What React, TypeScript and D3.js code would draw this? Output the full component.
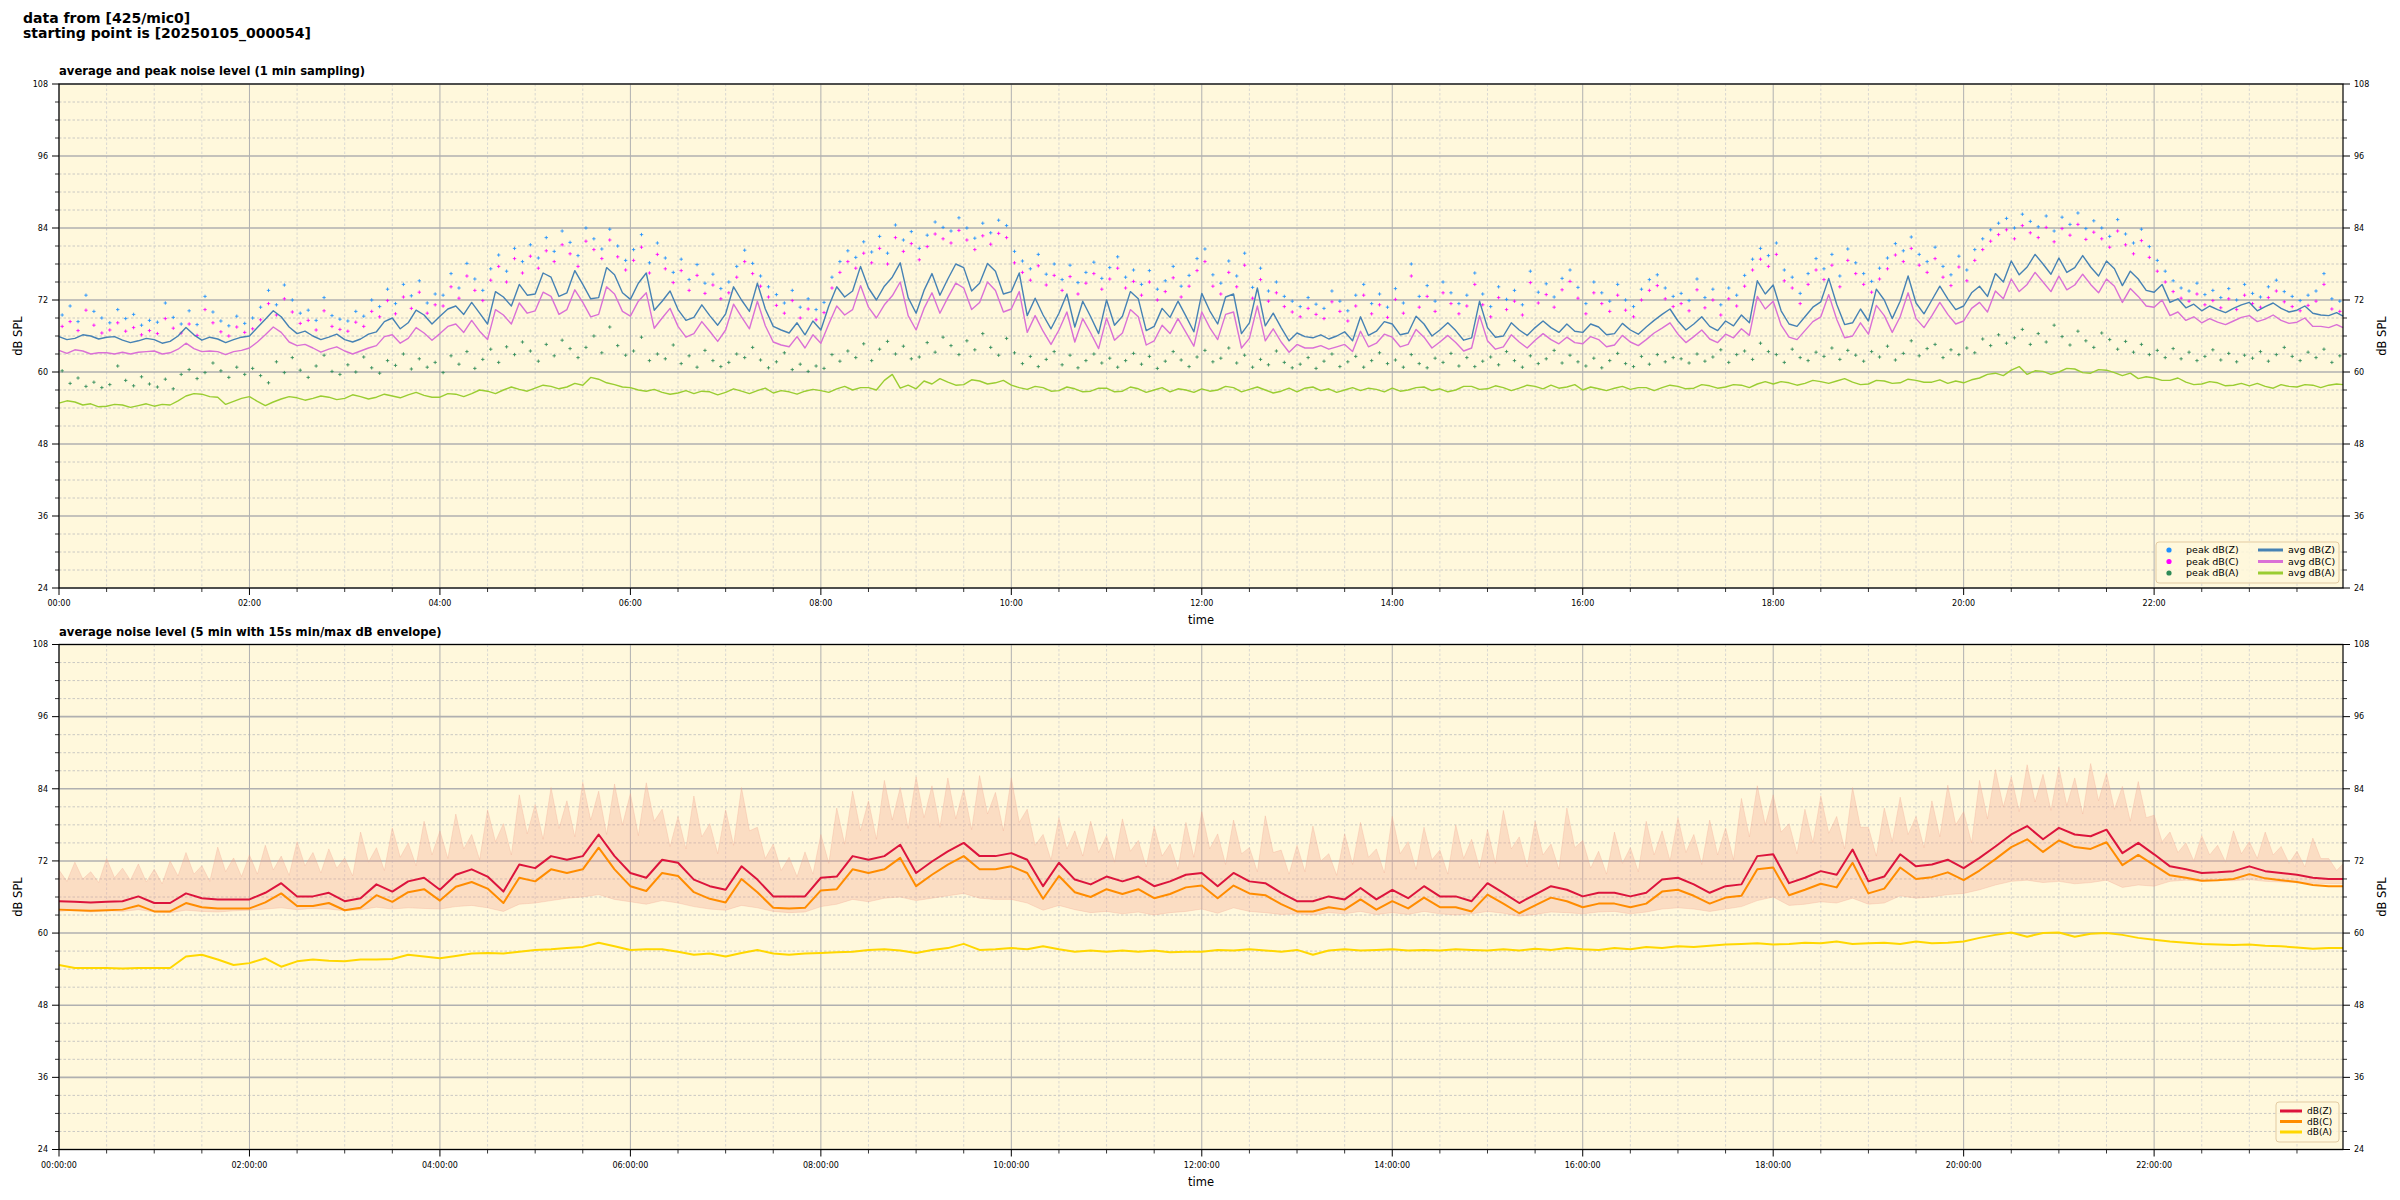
import * as d3 from "d3";

// ---- top panel: 1-min sampling, read every 10 min (00:00 .. 23:59)
const avgZ = [
  65.9, 65.6, 66.0, 65.8, 65.3, 65.2,
  65.4, 65.1, 67.4, 65.3, 65.5, 65.4,
  66.0, 68.8, 69.2, 66.4, 66.0, 65.8,
  65.4, 65.5, 66.7, 69.0, 68.2, 69.5,
  69.3, 71.0, 71.6, 68.0, 72.5, 74.6,
  73.0, 75.8, 73.2, 74.6, 72.4, 76.2,
  72.1, 76.5, 71.8, 70.4, 69.1, 69.4,
  69.7, 72.0, 74.8, 67.6, 66.5, 66.2,
  67.0, 74.2, 73.5, 74.0, 74.3, 78.2,
  69.8, 76.4, 75.5, 77.4, 74.8, 76.8,
  73.4, 69.4, 69.5, 69.8, 67.5, 69.2,
  72.0, 69.3, 72.2, 67.6, 69.1, 69.3,
  73.1, 68.0, 73.0, 68.2, 67.7, 67.4,
  66.5, 65.7, 65.5, 66.7, 69.2, 66.8,
  68.0, 66.5, 68.0, 67.0, 66.9, 65.7,
  67.4, 66.0, 67.0, 67.4, 67.4, 68.0,
  66.6, 67.5, 66.4, 67.0, 67.5, 69.6,
  68.5, 68.0, 67.6, 68.5, 69.5, 75.2,
  74.5, 68.0, 69.2, 71.7, 71.3, 68.2,
  68.5, 72.0, 71.8, 71.5, 72.0, 72.2,
  71.0, 74.3, 76.4, 78.5, 77.5, 78.0,
  79.0, 77.4, 77.5, 78.5, 74.4, 75.5,
  73.3, 71.6, 70.7, 70.2, 70.4, 70.6,
  71.6, 70.9, 70.6, 70.3, 69.8, 69.4,
  69.3,
];
// readings in between (at :05, :15, ...)
const avgZmid = [
  65.4, 66.2, 65.5, 65.9, 64.9, 65.6,
  64.8, 66.0, 66.2, 65.8, 64.9, 65.8,
  67.4, 70.2, 67.5, 66.8, 65.4, 66.3,
  65.0, 66.3, 68.4, 67.2, 70.3, 68.0,
  70.5, 69.6, 69.8, 73.4, 71.0, 72.8,
  76.5, 72.6, 76.9, 72.2, 77.4, 73.2,
  74.8, 70.3, 73.5, 68.6, 71.2, 67.8,
  74.2, 70.1, 70.5, 67.0, 68.2, 68.5,
  71.0, 72.5, 77.6, 72.0, 75.8, 72.4,
  73.6, 72.8, 78.0, 73.5, 78.1, 73.0,
  76.5, 72.3, 67.2, 73.0, 71.8, 66.4,
  67.8, 73.4, 66.9, 70.6, 71.8, 66.7,
  70.2, 72.5, 66.4, 74.0, 69.8, 65.2,
  65.9, 66.2, 66.0, 65.2, 66.1, 68.4,
  66.2, 69.3, 66.0, 68.2, 65.3, 71.8,
  65.8, 68.2, 66.1, 68.5, 66.6, 66.8,
  68.0, 66.2, 68.1, 66.3, 68.6, 70.5,
  67.0, 69.2, 66.9, 67.7, 68.2, 73.0,
  70.2, 67.6, 70.8, 75.6, 67.9, 70.5,
  73.8, 68.9, 76.0, 69.7, 74.3, 70.4,
  73.2, 72.6, 75.0, 76.2, 79.6, 76.3,
  76.6, 79.4, 76.0, 77.2, 76.8, 73.6,
  74.6, 72.2, 71.3, 71.0, 69.9, 71.2,
  70.2, 71.5, 70.0, 71.0, 69.5, 69.9,
];
const avgC = [
  63.6, 63.7, 63.0, 63.2, 63.3, 63.3,
  63.5, 63.2, 64.8, 63.4, 63.4, 63.4,
  64.0, 66.2, 66.6, 64.4, 64.0, 63.8,
  63.5, 63.5, 64.4, 66.2, 65.6, 66.5,
  66.4, 68.0, 68.6, 65.4, 69.5, 71.5,
  70.2, 72.6, 70.4, 71.6, 69.6, 73.0,
  69.3, 73.2, 69.0, 67.6, 66.4, 66.8,
  67.0, 69.2, 71.8, 65.0, 64.2, 64.0,
  64.8, 71.0, 70.4, 70.8, 71.2, 75.0,
  67.0, 73.2, 72.4, 74.0, 71.6, 73.6,
  70.5, 66.6, 66.8, 67.0, 65.0, 66.5,
  69.0, 66.5, 69.2, 65.2, 66.4, 66.6,
  70.0, 65.4, 70.0, 65.6, 65.2, 65.0,
  64.6, 64.0, 63.8, 64.6, 66.8, 64.8,
  65.8, 64.6, 65.8, 65.0, 64.9, 64.0,
  65.2, 64.2, 65.0, 65.3, 65.4, 65.8,
  64.7, 65.4, 64.5, 65.0, 65.4, 67.3,
  66.3, 65.9, 65.5, 66.3, 67.2, 72.6,
  71.8, 65.8, 66.9, 69.2, 68.8, 66.0,
  66.3, 69.4, 69.2, 68.9, 69.4, 69.6,
  68.5, 71.6, 73.5, 75.5, 74.6, 75.0,
  76.0, 74.5, 74.6, 75.5, 71.6, 72.6,
  70.8, 69.4, 68.6, 68.2, 68.3, 68.5,
  69.4, 68.8, 68.6, 68.3, 67.6, 67.4,
  67.4,
];
const avgCmid = [
  63.1, 63.5, 63.2, 63.0, 63.0, 63.4,
  63.0, 63.8, 63.9, 63.5, 62.9, 63.6,
  65.0, 67.5, 65.0, 64.6, 63.3, 64.2,
  63.0, 64.0, 65.9, 64.8, 67.4, 65.3,
  67.6, 66.6, 66.8, 70.4, 68.0, 69.8,
  73.3, 69.6, 73.7, 69.2, 74.2, 70.1,
  71.8, 67.3, 70.6, 65.8, 68.4, 65.1,
  71.3, 67.2, 67.7, 64.5, 65.9, 66.2,
  68.0, 69.5, 74.4, 69.0, 72.7, 69.4,
  70.6, 69.8, 74.8, 70.4, 75.0, 70.0,
  73.4, 69.4, 64.6, 70.0, 68.9, 63.9,
  65.3, 70.4, 64.5, 67.8, 68.9, 64.3,
  67.4, 69.6, 64.0, 71.0, 67.2, 63.3,
  64.0, 64.4, 64.2, 63.4, 64.2, 66.3,
  64.2, 67.1, 64.0, 66.1, 63.5, 69.4,
  63.8, 66.2, 64.0, 66.4, 64.7, 64.9,
  65.9, 64.2, 66.1, 64.4, 66.5, 68.2,
  64.9, 67.0, 64.9, 65.7, 66.1, 70.5,
  67.8, 65.4, 68.4, 72.9, 65.7, 68.2,
  71.1, 66.6, 73.2, 67.4, 71.6, 68.0,
  70.6, 70.0, 72.2, 73.4, 76.6, 73.4,
  73.7, 76.3, 73.2, 74.3, 73.9, 71.0,
  72.0, 70.0, 69.2, 68.9, 67.9, 69.1,
  68.4, 69.5, 68.1, 69.0, 67.6, 67.9,
];
const avgA = [
  54.8, 55.0, 54.7, 54.3, 54.5, 54.4,
  54.3, 54.5, 56.0, 56.3, 55.8, 55.1,
  55.9, 54.4, 55.5, 55.7, 55.6, 55.8,
  55.6, 55.9, 55.8, 56.0, 56.2, 56.1,
  55.8, 56.3, 56.4, 56.8, 57.0, 57.1,
  57.3, 57.6, 57.5, 57.8, 58.8, 57.9,
  57.4, 56.8, 56.6, 56.5, 56.4, 56.7,
  56.6, 56.8, 56.9, 56.5, 56.7, 56.8,
  56.9, 57.2, 57.0, 57.4, 58.6, 57.3,
  57.2, 58.0, 58.3, 57.9, 58.5, 58.2,
  57.8, 57.1, 57.4, 56.9, 57.2, 56.8,
  57.3, 56.8, 57.2, 57.0, 56.7, 57.0,
  57.2, 57.0, 57.4, 57.1, 57.0, 56.8,
  56.7, 57.5, 57.2, 57.0, 56.9, 57.1,
  57.3, 57.0, 57.5, 57.2, 57.0, 57.6,
  57.2, 57.4, 57.3, 57.6, 57.8, 57.5,
  57.0, 57.2, 57.3, 57.1, 57.4, 57.4,
  57.6, 57.3, 57.7, 57.5, 57.8, 58.0,
  58.0, 58.2, 58.1, 58.4, 58.5, 58.3,
  58.0, 58.5, 58.2, 58.6, 58.3, 58.1,
  58.2, 59.0, 59.8, 60.3, 59.6, 60.1,
  60.0, 60.5, 59.8, 60.3, 59.4, 58.9,
  59.0, 58.6, 58.3, 58.0, 58.2, 57.8,
  57.7, 57.6, 57.9, 57.5, 57.8, 57.8,
  57.9,
];
const avgAmid = [
  55.2, 54.5, 54.2, 54.6, 54.1, 54.7,
  54.6, 55.2, 56.4, 55.9, 54.6, 55.6,
  55.1, 55.0, 55.9, 55.3, 56.0, 55.4,
  56.2, 55.5, 56.3, 55.7, 56.6, 55.8,
  56.4, 55.9, 57.0, 56.4, 57.5, 56.8,
  57.8, 57.2, 58.1, 59.1, 58.2, 57.5,
  57.0, 57.1, 56.3, 56.9, 56.8, 56.2,
  57.2, 56.4, 57.3, 56.9, 56.3, 57.1,
  56.6, 57.6, 57.4, 57.0, 59.6, 57.8,
  58.5, 58.9, 57.8, 58.7, 58.0, 58.6,
  57.4, 57.6, 56.8, 57.5, 56.7, 57.3,
  56.7, 57.5, 56.6, 57.4, 57.2, 56.6,
  56.8, 57.6, 56.7, 57.5, 56.5, 57.3,
  57.3, 56.9, 56.6, 57.4, 57.3, 56.7,
  56.8, 57.4, 56.9, 56.7, 57.6, 57.1,
  57.7, 56.9, 57.8, 57.2, 57.3, 57.9,
  57.5, 56.9, 57.6, 57.4, 56.9, 57.8,
  57.2, 57.9, 57.3, 57.9, 57.4, 58.4,
  58.4, 57.8, 58.6, 58.1, 58.9, 57.9,
  58.6, 58.1, 58.8, 58.3, 58.7, 58.5,
  58.7, 59.6, 59.4, 60.9, 60.2, 59.6,
  60.6, 59.9, 60.4, 59.9, 59.8, 59.2,
  58.6, 59.0, 57.9, 58.4, 57.7, 58.1,
  58.1, 57.3, 57.6, 57.9, 57.4, 58.0,
];

// peak readings, every 5 min
const peakZ = [
  69.5, 71.0, 68.4, 72.8, 70.1, 69.0, 68.2, 70.4, 68.9, 69.6, 67.8, 68.6,
  68.3, 71.5, 69.1, 68.0, 70.2, 67.9, 72.6, 70.0, 68.5, 67.7, 69.3, 68.1,
  69.0, 70.8, 73.6, 71.2, 74.5, 72.0, 69.8, 70.3, 68.6, 72.4, 69.4, 68.8,
  68.5, 70.1, 69.3, 72.0, 70.9, 73.8, 71.4, 74.6, 72.7, 75.2, 71.5, 73.0,
  72.8, 76.4, 74.0, 78.1, 75.5, 73.6, 77.2, 79.5, 76.8, 80.6, 78.4, 81.2,
  79.0, 82.4, 80.1, 83.5, 81.6, 79.4, 84.0, 82.2, 80.5, 83.8, 81.0, 78.6,
  80.4, 82.9, 78.2, 81.5, 79.0, 76.6, 78.8, 75.4, 77.9, 74.8, 76.3, 73.9,
  75.0, 77.6, 80.3, 78.1, 76.0, 74.2, 72.9, 71.5, 73.6, 70.8, 72.2, 70.4,
  71.6, 75.8, 78.4, 80.2, 79.1, 81.7, 80.0, 82.6, 79.8, 84.5, 82.0, 83.4,
  80.6, 82.8, 85.0, 84.1, 83.5, 85.7, 84.0, 82.3, 84.8, 83.2, 85.3, 84.4,
  80.1, 78.5, 77.2, 79.6, 76.3, 78.0, 75.4, 77.8, 74.9, 76.6, 78.3, 75.6,
  77.4, 79.2, 75.8, 77.0, 74.6, 76.9, 73.8, 75.2, 77.6, 74.3, 76.1, 78.9,
  80.5, 76.2, 74.8, 78.5, 76.0, 79.8, 74.1, 77.3, 73.5, 75.0, 72.6, 71.8,
  70.9, 72.4, 71.3, 70.6, 73.5, 71.8, 70.2, 72.8, 74.6, 71.4, 73.0, 70.8,
  73.9, 71.5, 78.0, 72.6, 74.4, 71.8, 75.0, 73.2, 71.4, 72.8, 76.5, 73.0,
  70.9, 74.2, 72.1, 73.6, 71.2, 76.8, 73.3, 74.7, 72.5, 75.6, 77.0, 74.1,
  71.4, 75.0, 73.2, 71.8, 74.6, 72.0, 70.9, 73.8, 75.4, 76.2, 74.0, 72.6,
  73.1, 71.9, 75.5, 72.4, 73.8, 71.2, 74.0, 72.8, 76.1, 78.8, 80.6, 79.4,
  81.5, 77.0, 75.8, 73.1, 76.4, 78.9, 77.2, 79.6, 76.0, 80.5, 78.2, 76.4,
  75.1, 77.3, 79.0, 81.4, 80.2, 82.5, 79.6, 78.4, 80.8, 77.6, 76.2, 79.3,
  77.0, 80.4, 82.2, 83.7, 84.8, 85.6, 84.0, 86.3, 85.1, 84.2, 86.0, 83.5,
  85.8, 84.6, 86.5, 83.9, 85.2, 84.0, 82.6, 85.4, 83.0, 81.5, 83.8, 80.9,
  78.6, 76.8, 75.2, 74.0, 73.5, 74.8, 72.9, 73.6, 72.4, 73.9, 72.0, 74.6,
  73.1, 72.5, 74.2, 75.3, 73.4, 72.6, 71.9, 72.8, 73.5, 76.4, 72.2, 71.8,
];
const peakC = [
  67.6, 68.4, 66.9, 70.3, 67.8, 66.5, 67.0, 68.2, 66.8, 67.4, 66.2, 66.9,
  66.4, 68.9, 67.3, 66.5, 68.0, 66.1, 70.4, 68.2, 66.7, 66.0, 67.5, 66.6,
  67.2, 68.7, 71.4, 69.5, 72.2, 70.0, 68.1, 68.6, 67.0, 70.2, 67.6, 67.1,
  66.8, 68.3, 67.6, 70.1, 69.2, 71.9, 69.7, 72.5, 70.6, 73.3, 69.8, 71.2,
  71.0, 74.2, 72.3, 76.0, 73.6, 71.9, 75.3, 77.6, 75.0, 78.9, 76.5, 79.3,
  77.3, 80.2, 78.4, 81.2, 79.7, 77.6, 81.8, 80.4, 78.9, 82.0, 79.2, 77.0,
  78.6, 80.8, 76.5, 79.6, 77.2, 74.9, 76.9, 73.6, 76.1, 73.1, 74.5, 72.2,
  73.2, 75.8, 78.4, 76.4, 74.3, 72.5, 71.1, 69.8, 71.9, 69.0, 70.5, 68.7,
  69.9, 74.0, 76.6, 78.4, 77.3, 79.8, 78.2, 80.6, 78.0, 82.4, 80.1, 81.4,
  78.7, 80.9, 83.0, 82.2, 81.5, 83.6, 82.0, 80.4, 82.7, 81.3, 83.1, 82.4,
  78.2, 76.6, 75.3, 77.7, 74.5, 76.1, 73.6, 75.9, 73.0, 74.8, 76.4, 73.8,
  75.5, 77.3, 74.0, 75.1, 72.8, 75.0, 72.0, 73.4, 75.7, 72.5, 74.3, 76.9,
  78.4, 74.3, 73.0, 76.6, 74.2, 77.8, 72.3, 75.4, 71.8, 73.2, 70.9, 70.0,
  69.2, 70.6, 69.6, 68.9, 71.7, 70.1, 68.5, 71.0, 72.8, 69.7, 71.2, 69.1,
  72.1, 69.8, 76.0, 70.8, 72.6, 70.1, 73.2, 71.4, 69.7, 71.0, 74.6, 71.2,
  69.2, 72.4, 70.4, 71.8, 69.5, 74.9, 71.5, 72.9, 70.8, 73.7, 75.1, 72.3,
  69.7, 73.2, 71.4, 70.1, 72.8, 70.3, 69.2, 72.0, 73.6, 74.4, 72.2, 70.9,
  71.4, 70.2, 73.7, 70.7, 72.0, 69.5, 72.2, 71.0, 74.3, 77.0, 78.8, 77.6,
  79.6, 75.2, 74.0, 71.4, 74.6, 77.0, 75.4, 77.8, 74.2, 78.6, 76.4, 74.6,
  73.3, 75.5, 77.2, 79.5, 78.4, 80.6, 77.8, 76.6, 78.9, 75.8, 74.4, 77.5,
  75.2, 78.6, 80.4, 81.8, 82.9, 83.7, 82.2, 84.4, 83.2, 82.4, 84.1, 81.7,
  83.9, 82.8, 84.6, 82.1, 83.3, 82.2, 80.8, 83.5, 81.2, 79.7, 81.9, 79.1,
  76.8, 75.0, 73.4, 72.3, 71.8, 73.0, 71.2, 71.9, 70.7, 72.2, 70.4, 72.8,
  71.4, 70.8, 72.4, 73.5, 71.7, 70.9, 70.2, 71.1, 71.8, 74.6, 70.5, 70.1,
];
const peakA = [
  60.2, 58.1, 59.0, 57.6, 58.3, 57.4, 57.9, 61.0, 58.6, 57.7, 59.2, 58.0,
  57.5, 58.8, 57.2, 59.6, 60.4, 58.9, 59.9, 61.5, 60.2, 59.1, 60.8, 59.6,
  60.6, 59.4, 58.2, 61.7, 59.9, 62.4, 60.3, 59.1, 61.0, 62.8, 60.1, 59.6,
  61.2, 60.0, 62.5, 60.7, 59.8, 61.9, 61.1, 63.0, 60.5, 62.2, 60.8, 61.6,
  59.9, 62.7, 61.3, 63.4, 60.6, 62.1, 63.8, 61.6, 64.2, 62.9, 65.0, 63.5,
  61.8, 64.6, 62.7, 65.3, 63.9, 62.4, 64.1, 66.0, 63.2, 67.5, 64.4, 62.8,
  63.5, 65.8, 61.9, 63.0, 62.2, 64.5, 61.4, 62.7, 60.8, 63.6, 61.9, 60.9,
  61.6, 63.0, 62.4, 64.1, 62.0, 60.7, 61.7, 63.2, 60.4, 61.3, 60.1, 61.0,
  60.6, 62.9, 61.8, 63.5, 62.4, 64.7, 61.9, 63.8, 65.1, 63.0, 64.3, 62.2,
  62.5, 64.9, 63.3, 65.8, 64.4, 62.9, 65.2, 63.7, 66.4, 64.1, 62.8, 65.6,
  63.2, 61.4, 62.6, 60.9, 62.1, 63.4, 61.2, 62.8, 60.7, 61.9, 63.0, 61.5,
  62.3, 60.8, 61.9, 63.1, 61.3, 62.6, 60.6, 61.8, 63.4, 62.0, 60.9, 62.5,
  63.6, 61.7, 62.3, 64.0, 61.5, 62.8, 60.8, 62.1, 61.2, 63.5, 61.6, 60.7,
  61.3, 62.4, 60.6, 61.8, 63.0, 60.9, 61.7, 62.6, 60.8, 61.9, 63.2, 61.4,
  62.0, 60.8, 62.9, 61.4, 60.7, 62.3, 61.6, 63.1, 61.0, 62.4, 60.9, 61.8,
  62.5, 61.2, 63.4, 61.9, 60.8, 62.7, 61.4, 62.2, 63.6, 61.5, 62.8, 61.7,
  61.0, 62.3, 60.7, 61.9, 63.1, 61.4, 60.9, 62.6, 61.3, 62.9, 61.7, 62.4,
  62.2, 61.5, 63.0, 61.8, 62.5, 63.7, 61.6, 62.9, 63.5, 62.1, 64.8, 63.4,
  62.9, 61.6, 63.8, 62.4, 61.9, 63.3, 62.6, 64.0, 62.1, 63.6, 62.8, 61.8,
  63.4, 62.5, 64.3, 62.0, 63.1, 65.2, 62.7, 63.9, 64.6, 62.4, 63.7, 62.9,
  64.0, 63.2, 65.5, 64.4, 66.2, 64.8, 65.7, 67.1, 64.6, 66.4, 65.0, 67.8,
  65.9, 64.5, 66.8, 65.2, 64.1, 66.5, 65.4, 63.8, 65.1, 63.3, 64.6, 62.9,
  63.6, 62.4, 63.9, 62.2, 63.3, 61.9, 62.6, 63.7, 62.0, 63.1, 61.7, 62.8,
  62.3, 63.4, 61.8, 62.9, 64.1, 62.6, 61.9, 63.3, 62.4, 63.8, 61.6, 62.7,
];

// ---- bottom panel: 5-min levels and 15 s min/max envelope, every 10 min
const levelZ = [
  65.3, 65.2, 65.1, 65.2, 65.3, 66.1,
  65.0, 65.0, 66.6, 65.8, 65.6, 65.6,
  65.6, 66.7, 68.3, 66.1, 66.1, 66.7,
  65.3, 65.8, 68.1, 66.9, 68.6, 69.2,
  67.2, 69.7, 70.6, 69.4, 66.9, 71.4,
  70.8, 72.8, 72.2, 72.8, 76.4, 72.8,
  70.0, 69.2, 72.2, 71.7, 68.9, 67.8,
  67.2, 71.1, 68.9, 66.1, 66.1, 66.1,
  69.2, 69.4, 72.8, 72.2, 72.8, 74.7,
  70.0, 71.9, 73.6, 75.0, 72.8, 72.8,
  73.3, 72.2, 67.8, 71.7, 68.9, 68.1,
  69.4, 68.6, 69.4, 67.8, 68.6, 69.7,
  70.0, 67.8, 70.0, 68.6, 68.3, 66.7,
  65.3, 65.3, 66.1, 65.6, 67.5, 65.6,
  67.2, 65.8, 67.8, 66.1, 66.1, 65.3,
  68.3, 66.7, 65.0, 66.4, 67.8, 67.2,
  66.1, 66.7, 66.7, 66.1, 66.7, 68.9,
  69.2, 68.1, 66.7, 67.8, 68.1, 72.8,
  73.1, 68.3, 69.2, 70.3, 69.7, 73.9,
  68.6, 69.4, 73.1, 71.1, 71.4, 72.2,
  70.8, 72.5, 74.4, 76.4, 77.8, 75.6,
  77.5, 76.4, 76.1, 77.2, 73.3, 75.0,
  73.1, 71.1, 70.6, 70.0, 70.1, 70.3,
  71.1, 70.3, 70.0, 69.7, 69.2, 69.0,
  69.0,
];
const levelC = [
  63.9, 63.8, 63.7, 63.8, 63.9, 64.6,
  63.6, 63.6, 65.0, 64.3, 64.1, 64.1,
  64.1, 65.1, 66.6, 64.5, 64.5, 65.0,
  63.8, 64.2, 66.3, 65.2, 66.8, 67.3,
  65.4, 67.7, 68.5, 67.4, 65.0, 69.2,
  68.6, 70.6, 70.0, 70.6, 74.2, 70.6,
  67.8, 67.0, 70.0, 69.5, 66.8, 65.7,
  65.1, 69.0, 66.8, 64.2, 64.1, 64.2,
  67.1, 67.3, 70.6, 70.0, 70.6, 72.5,
  67.8, 69.7, 71.4, 72.8, 70.6, 70.6,
  71.1, 70.0, 65.7, 69.5, 66.8, 66.0,
  67.3, 66.5, 67.3, 65.8, 66.5, 67.6,
  67.9, 65.8, 67.9, 66.6, 66.3, 64.8,
  63.6, 63.6, 64.3, 63.9, 65.6, 63.9,
  65.3, 64.1, 65.9, 64.3, 64.3, 63.6,
  66.4, 64.9, 63.3, 64.6, 65.9, 65.3,
  64.3, 64.9, 64.9, 64.3, 64.9, 66.9,
  67.2, 66.2, 64.9, 65.9, 66.2, 70.6,
  70.9, 66.3, 67.2, 68.2, 67.6, 71.7,
  66.6, 67.4, 70.9, 69.0, 69.3, 70.1,
  68.8, 70.4, 72.3, 74.3, 75.6, 73.5,
  75.4, 74.3, 74.0, 75.1, 71.3, 73.0,
  71.3, 69.6, 69.2, 68.7, 68.8, 69.0,
  69.8, 69.1, 68.8, 68.5, 68.0, 67.8,
  67.8,
];
const levelA = [
  54.7, 54.2, 54.2, 54.2, 54.1, 54.2,
  54.2, 54.2, 56.1, 56.4, 55.6, 54.7,
  55.0, 55.8, 54.4, 55.3, 55.6, 55.4,
  55.3, 55.6, 55.6, 55.7, 56.4, 56.1,
  55.8, 56.2, 56.6, 56.7, 56.6, 56.9,
  57.2, 57.3, 57.5, 57.7, 58.4, 57.8,
  57.2, 57.3, 57.3, 56.9, 56.4, 56.6,
  56.1, 56.7, 57.2, 56.6, 56.4, 56.6,
  56.7, 56.8, 56.9, 57.2, 57.3, 57.1,
  56.7, 57.2, 57.5, 58.2, 57.2, 57.3,
  57.5, 57.3, 57.8, 57.3, 56.9, 57.1,
  56.9, 57.1, 56.9, 57.1, 56.8, 56.9,
  56.9, 57.2, 57.1, 57.3, 57.1, 56.9,
  57.2, 56.4, 57.1, 57.3, 57.1, 57.2,
  57.3, 57.1, 57.2, 57.1, 57.3, 57.2,
  57.1, 57.3, 57.1, 57.4, 57.2, 57.5,
  57.3, 57.2, 57.5, 57.3, 57.7, 57.5,
  57.8, 57.7, 57.9, 58.1, 58.2, 58.3,
  58.1, 58.2, 58.4, 58.3, 58.6, 58.2,
  58.3, 58.4, 58.2, 58.6, 58.3, 58.4,
  58.6, 59.2, 59.7, 60.1, 59.4, 60.0,
  60.1, 59.4, 59.9, 60.0, 59.7, 59.2,
  58.9, 58.6, 58.4, 58.2, 58.1, 58.0,
  58.1, 57.9, 57.8, 57.6, 57.4, 57.5,
  57.5,
];
const envMax = [
  70.5, 71.8, 70.2, 72.4, 70.8, 71.5,
  70.6, 72.0, 73.4, 71.2, 74.3, 72.5,
  73.0, 74.6, 72.8, 75.2, 73.4, 74.0,
  72.5, 76.8, 74.2, 77.5, 75.0, 78.6,
  77.0, 79.8, 76.4, 80.5, 78.2, 83.0,
  81.4, 84.2, 82.0, 85.1, 83.6, 84.8,
  83.2, 85.0, 80.6, 79.4, 82.8, 78.2,
  80.5, 84.2, 77.6, 74.8, 72.6, 73.5,
  76.4, 80.8, 83.6, 82.0, 85.4, 84.2,
  86.0, 84.5, 85.8, 84.0, 86.2, 83.4,
  85.8, 80.6, 76.4, 79.2, 77.0, 78.6,
  76.2, 79.0, 75.4, 77.8, 74.8, 78.4,
  80.2, 76.5, 78.8, 74.2, 79.5, 73.8,
  74.6, 77.8, 73.2, 76.5, 78.4, 74.0,
  79.4, 75.2, 77.6, 73.8, 78.0, 75.6,
  77.2, 80.4, 76.0, 78.6, 74.8, 80.8,
  75.4, 73.6, 76.8, 74.2, 78.6, 77.0,
  79.2, 76.4, 78.8, 77.5, 82.4, 84.5,
  83.0, 78.2, 80.6, 82.8, 79.4, 84.2,
  77.6, 80.8, 82.6, 79.4, 82.0, 84.6,
  80.2, 85.4, 87.2, 86.0, 88.0, 86.4,
  87.6, 85.8, 88.2, 86.6, 84.4, 85.2,
  79.6, 76.8, 75.0, 76.2, 74.6, 77.0,
  75.2, 76.8, 74.4, 73.6, 75.8, 72.4,
  71.5,
];
const envMaxMid = [
  68.6, 69.0, 68.4, 69.2, 68.8, 68.5,
  68.2, 69.5, 69.8, 68.6, 70.2, 69.4,
  69.8, 70.5, 69.6, 71.2, 70.0, 70.8,
  69.5, 71.8, 70.4, 72.6, 71.2, 73.0,
  72.4, 74.0, 72.2, 75.2, 73.0, 76.5,
  75.6, 77.4, 76.0, 78.8, 76.4, 78.0,
  76.2, 78.6, 74.4, 74.0, 76.0, 73.2,
  74.6, 77.0, 72.4, 70.4, 69.4, 69.8,
  71.6, 74.8, 77.0, 75.6, 78.8, 77.4,
  79.2, 77.6, 79.0, 77.2, 79.8, 77.0,
  78.4, 74.6, 72.2, 74.0, 72.8, 73.4,
  71.8, 73.6, 71.0, 72.8, 70.6, 72.6,
  74.0, 71.4, 73.2, 70.2, 73.4, 69.8,
  70.2, 72.0, 69.6, 71.4, 72.6, 70.0,
  73.2, 70.6, 72.2, 69.8, 72.4, 70.8,
  71.6, 74.0, 71.0, 73.0, 70.6, 74.2,
  70.8, 69.8, 71.6, 70.2, 73.0, 72.0,
  73.4, 71.4, 73.0, 72.2, 76.0, 78.0,
  76.8, 73.2, 75.0, 76.6, 74.0, 77.6,
  72.8, 75.2, 76.4, 74.2, 76.0, 78.0,
  75.0, 79.0, 81.0, 80.2, 81.8, 80.4,
  81.2, 79.8, 82.0, 80.6, 78.6, 79.2,
  75.2, 73.4, 72.0, 73.0, 71.8, 73.2,
  72.4, 73.0, 71.6, 71.0, 72.4, 70.4,
];
const envMin = [
  63.6, 63.8, 63.5, 63.7, 63.6, 63.9,
  63.5, 63.4, 63.8, 63.6, 63.5, 63.7,
  63.8, 64.0, 64.2, 63.9, 64.1, 64.0,
  63.7, 63.9, 64.3, 64.0, 64.2, 64.1,
  64.0, 64.4, 64.6, 64.2, 63.6, 64.8,
  65.0, 65.4, 65.8, 66.0, 66.4, 65.6,
  65.2, 64.8, 65.4, 65.0, 64.4, 64.0,
  63.8, 64.6, 64.2, 63.6, 63.4, 63.5,
  64.4, 64.8, 65.6, 65.2, 65.8, 66.0,
  65.4, 65.8, 66.2, 66.6, 65.8, 65.6,
  65.6, 65.0, 63.8, 64.6, 63.9, 63.4,
  63.6, 63.2, 63.5, 63.0, 63.4, 63.6,
  64.0, 63.3, 64.2, 63.6, 63.4, 63.1,
  63.2, 63.0, 63.4, 63.2, 63.6, 63.1,
  63.4, 63.1, 63.6, 63.2, 63.0, 63.2,
  63.6, 63.3, 62.8, 63.1, 63.5, 63.4,
  63.2, 63.5, 63.6, 63.2, 63.5, 64.0,
  64.2, 64.0, 63.6, 64.0, 64.4, 65.4,
  66.0, 64.6, 64.8, 65.2, 65.0, 65.8,
  64.8, 65.0, 66.2, 65.8, 66.0, 66.4,
  66.6, 67.2, 68.0, 68.6, 68.8, 68.4,
  68.6, 68.2, 68.4, 68.8, 67.6, 68.0,
  67.8, 68.6, 68.8, 68.6, 68.8, 68.7,
  68.9, 68.6, 68.5, 68.4, 68.3, 68.2,
  68.2,
];

const xTickLabelsTop = ["00:00", "02:00", "04:00", "06:00", "08:00", "10:00", "12:00", "14:00", "16:00", "18:00", "20:00", "22:00"];
const xTickLabelsBottom = ["00:00:00", "02:00:00", "04:00:00", "06:00:00", "08:00:00", "10:00:00", "12:00:00", "14:00:00", "16:00:00", "18:00:00", "20:00:00", "22:00:00"];
const yTicks = [24, 36, 48, 60, 72, 84, 96, 108];

const FONT = "DejaVu Sans, sans-serif";
const BG = "#fff8dc";
const X0 = 59;
const X1 = 2343;

const x = d3.scaleLinear().domain([0, 1439]).range([X0, X1]);
const yTop = d3.scaleLinear().domain([24, 108]).range([588, 84]);
const yBot = d3.scaleLinear().domain([24, 108]).range([1149.5, 644.5]);

type Pt = { t: number; v: number };
const tenMin = (vals: number[]): Pt[] => vals.map((v, i) => ({ t: Math.min(i * 10, 1439), v }));
const fiveMin = (vals: number[]): Pt[] => vals.map((v, i) => ({ t: i * 5 + 2, v }));
// merge the :00 and :05 readings into one series
const merged = (main: number[], mid: number[]): Pt[] =>
  main.flatMap((v, i) =>
    i < mid.length ? [{ t: i * 10, v }, { t: i * 10 + 5, v: mid[i] }] : [{ t: 1439, v }]
  );

function linePath(data: Pt[], y: d3.ScaleLinear<number, number>) {
  return d3.line<Pt>().x((d) => x(d.t)).y((d) => y(d.v))(data) || "";
}

function plusPath(data: Pt[], y: d3.ScaleLinear<number, number>) {
  return data
    .map((d) => {
      const px = x(d.t);
      const py = y(d.v);
      return `M${px - 1.7},${py}h3.4M${px},${py - 1.7}v3.4`;
    })
    .join("");
}

function Grid({ y }: { y: d3.ScaleLinear<number, number> }) {
  const [b, t] = y.range();
  const minorY = d3.range(24, 109, 3).filter((v) => v % 12 !== 0);
  const minorX = d3.range(0, 1440, 30).filter((m) => m % 120 !== 0);
  const majorX = d3.range(0, 1440, 120);
  return (
    <g>
      <rect x={X0} y={t} width={X1 - X0} height={b - t} fill={BG} />
      {minorY.map((v) => (
        <line key={"my" + v} x1={X0} x2={X1} y1={y(v)} y2={y(v)} stroke="#bdbdbd" strokeWidth={0.8} strokeDasharray="2.5,2" />
      ))}
      {minorX.map((m) => (
        <line key={"mx" + m} x1={x(m)} x2={x(m)} y1={t} y2={b} stroke="#cfcfcf" strokeWidth={0.8} strokeDasharray="2.5,2" />
      ))}
      {yTicks.map((v) => (
        <line key={"Y" + v} x1={X0} x2={X1} y1={y(v)} y2={y(v)} stroke="#b0b0b0" strokeWidth={1.6} />
      ))}
      {majorX.map((m) => (
        <line key={"X" + m} x1={x(m)} x2={x(m)} y1={t} y2={b} stroke="#b0b0b0" strokeWidth={1} />
      ))}
    </g>
  );
}

function Axes({ y, labels, title }: { y: d3.ScaleLinear<number, number>; labels: string[]; title: string }) {
  const [b, t] = y.range();
  const minorY = d3.range(24, 109, 3).filter((v) => v % 12 !== 0);
  const minorX = d3.range(0, 1440, 30).filter((m) => m % 120 !== 0);
  const majorX = d3.range(0, 1440, 120);
  const midY = (b + t) / 2;
  return (
    <g fontFamily={FONT} fill="#000">
      <rect x={X0} y={t} width={X1 - X0} height={b - t} fill="none" stroke="#000" strokeWidth={1.2} />
      {yTicks.map((v) => (
        <g key={"yt" + v}>
          <line x1={X0 - 7} x2={X0} y1={y(v)} y2={y(v)} stroke="#000" strokeWidth={1} />
          <line x1={X1} x2={X1 + 7} y1={y(v)} y2={y(v)} stroke="#000" strokeWidth={1} />
          <text x={X0 - 11} y={y(v)} dy="0.35em" textAnchor="end" fontSize={8}>{v}</text>
          <text x={X1 + 11} y={y(v)} dy="0.35em" textAnchor="start" fontSize={8}>{v}</text>
        </g>
      ))}
      {minorY.map((v) => (
        <g key={"ym" + v}>
          <line x1={X0 - 4} x2={X0} y1={y(v)} y2={y(v)} stroke="#000" strokeWidth={0.8} />
          <line x1={X1} x2={X1 + 4} y1={y(v)} y2={y(v)} stroke="#000" strokeWidth={0.8} />
        </g>
      ))}
      {majorX.map((m, i) => (
        <g key={"xt" + m}>
          <line x1={x(m)} x2={x(m)} y1={b} y2={b + 7} stroke="#000" strokeWidth={1} />
          <text x={x(m)} y={b + 18} textAnchor="middle" fontSize={8}>{labels[i]}</text>
        </g>
      ))}
      {minorX.map((m) => (
        <line key={"xm" + m} x1={x(m)} x2={x(m)} y1={b} y2={b + 4} stroke="#000" strokeWidth={0.8} />
      ))}
      <text x={(X0 + X1) / 2} y={b + 36} textAnchor="middle" fontSize={11.5}>time</text>
      <text transform={`translate(22,${midY}) rotate(-90)`} textAnchor="middle" fontSize={11.5}>dB SPL</text>
      <text transform={`translate(2386,${midY}) rotate(-90)`} textAnchor="middle" fontSize={11.5}>dB SPL</text>
      <text x={X0} y={t - 9} fontSize={11.6} fontWeight="bold">{title}</text>
    </g>
  );
}

const topDots = [
  { name: "peak dB(Z)", data: peakZ, color: "#1e90ff" },
  { name: "peak dB(C)", data: peakC, color: "#ff00ff" },
  { name: "peak dB(A)", data: peakA, color: "#2e8b57" },
];
const topLines = [
  { name: "avg dB(Z)", data: avgZ, mid: avgZmid, color: "#4682b4" },
  { name: "avg dB(C)", data: avgC, mid: avgCmid, color: "#da70d6" },
  { name: "avg dB(A)", data: avgA, mid: avgAmid, color: "#9acd32" },
];
const botLines = [
  { name: "dB(Z)", data: levelZ, color: "#dc143c" },
  { name: "dB(C)", data: levelC, color: "#ff8c00" },
  { name: "dB(A)", data: levelA, color: "#ffd700" },
];

export default function App() {
  // envelope outline: max readings along the top, min readings back along the bottom
  const upper = merged(envMax, envMaxMid);
  const lower = tenMin(envMin).reverse();
  const envPath = linePath([...upper, ...lower], yBot) + "Z";

  const rowsTop = [550, 561.5, 573];
  const rowsBot = [1111, 1121.5, 1132];

  return (
    <div style={{ position: "absolute", left: 0, top: 0 }}>
      <svg width={2400} height={1200} style={{ display: "block", background: "#fff" }}>
        <g fontFamily={FONT} fontWeight="bold" fontSize={14}>
          <text x={23} y={23}>data from [425/mic0]</text>
          <text x={23} y={38}>starting point is [20250105_000054]</text>
        </g>

        {/* top panel */}
        <Grid y={yTop} />
        {topDots.map((s) => (
          <path key={s.name} d={plusPath(fiveMin(s.data), yTop)} stroke={s.color} strokeWidth={1} fill="none" opacity={0.85} />
        ))}
        {topLines.map((s) => (
          <path key={s.name} d={linePath(merged(s.data, s.mid), yTop)} stroke={s.color} strokeWidth={1.4} fill="none" strokeLinejoin="round" />
        ))}
        <Axes y={yTop} labels={xTickLabelsTop} title="average and peak noise level (1 min sampling)" />
        <g fontFamily={FONT} fontSize={9.5}>
          <rect x={2156} y={542} width={183} height={41} rx={3} fill={BG} fillOpacity={0.85} stroke="#e3cba2" strokeWidth={1} />
          {topDots.map((s, i) => (
            <g key={s.name}>
              <circle cx={2169} cy={rowsTop[i]} r={2.6} fill={s.color} />
              <text x={2186} y={rowsTop[i]} dy="0.35em">{s.name}</text>
            </g>
          ))}
          {topLines.map((s, i) => (
            <g key={s.name}>
              <line x1={2258} x2={2283} y1={rowsTop[i]} y2={rowsTop[i]} stroke={s.color} strokeWidth={3} />
              <text x={2288} y={rowsTop[i]} dy="0.35em">{s.name}</text>
            </g>
          ))}
        </g>

        {/* bottom panel */}
        <Grid y={yBot} />
        <path d={envPath} fill="#f2a08c" fillOpacity={0.3} stroke="#f2a08c" strokeOpacity={0.35} strokeWidth={0.8} />
        {botLines.map((s) => (
          <path key={s.name} d={linePath(tenMin(s.data), yBot)} stroke={s.color} strokeWidth={2} fill="none" strokeLinejoin="round" />
        ))}
        <Axes y={yBot} labels={xTickLabelsBottom} title="average noise level (5 min with 15s min/max dB envelope)" />
        <g fontFamily={FONT} fontSize={9}>
          <rect x={2276} y={1102} width={63} height={40} rx={3} fill={BG} fillOpacity={0.85} stroke="#e3cba2" strokeWidth={1} />
          {botLines.map((s, i) => (
            <g key={s.name}>
              <line x1={2280} x2={2302} y1={rowsBot[i]} y2={rowsBot[i]} stroke={s.color} strokeWidth={3} />
              <text x={2307} y={rowsBot[i]} dy="0.35em">{s.name}</text>
            </g>
          ))}
        </g>
      </svg>
    </div>
  );
}
